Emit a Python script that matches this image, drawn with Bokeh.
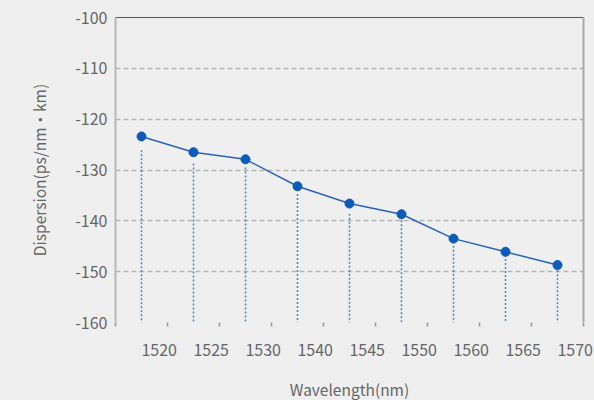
from bokeh.plotting import figure
from bokeh.models import (FixedTicker, CustomJSTickFormatter, LinearAxis, Range1d, Grid,
                          ColumnDataSource, GlobalInlineStyleSheet)
from bokeh.embed import file_html
from bokeh.resources import INLINE

# ---- data ----
wavelengths = ["1520", "1525", "1530", "1540", "1545", "1550", "1560", "1565", "1570"]
dispersion = [-123.4, -126.5, -127.9, -133.2, -136.6, -138.7, -143.5, -146.1, -148.7]
dotted_tops = [-126.1, -128.7, -129.5, -134.7, -138.6, -139.9, -144.9, -147.5, -149.7]
y_ticks = [-160, -150, -140, -130, -120, -110, -100]
y_min, y_max = -160, -100

BG = "#efefef"
FONT = "Noto Sans CJK SC"
TXT = "#666666"

n = len(wavelengths)
FRAME_W, FRAME_H = 468, 305
xs = [i + 0.5 for i in range(n)]
src = ColumnDataSource(dict(x=xs, y=dispersion, top=dotted_tops,
                            bottom=[y_min] * n, label=wavelengths))

# x tick labels in the reference start at each point (left aligned):
# shift the label ticks right by half a label's width
label_px = 16
half_label_px = len(wavelengths[0]) * 0.555 * label_px / 2
shift = half_label_px / (FRAME_W / n)
label_ticks = [x + shift for x in xs]

p = figure(frame_width=FRAME_W, frame_height=FRAME_H,
           x_range=Range1d(0, n), y_range=Range1d(y_min, y_max),
           output_backend="svg", toolbar_location=None,
           min_border_left=115, min_border_right=11,
           min_border_top=17, min_border_bottom=78,
           background_fill_color=BG, border_fill_color=BG,
           x_axis_type=None, y_axis_type=None)
p.outline_line_color = None
p.stylesheets = [GlobalInlineStyleSheet(css="body{background:%s;}" % BG)]

# grid
grid = Grid(dimension=1, ticker=FixedTicker(ticks=y_ticks),
            grid_line_color="#b5b5b5", grid_line_width=1.5, grid_line_dash="5 3")
p.add_layout(grid)

# y axis
yax = LinearAxis(ticker=FixedTicker(ticks=y_ticks),
                 formatter=CustomJSTickFormatter(code="return tick.toFixed(0);"))
yax.axis_label = "Dispersion(ps/nm\u00b7km)"
yax.axis_label_text_font = FONT
yax.axis_label_text_font_size = "15.5px"
yax.axis_label_text_font_style = "normal"
yax.axis_label_text_color = TXT
yax.axis_label_standoff = 22
yax.major_label_text_font = FONT
yax.major_label_text_font_size = "16px"
yax.major_label_text_color = TXT
yax.major_label_standoff = 8
yax.major_tick_out = 0
yax.major_tick_in = 0
yax.minor_tick_out = 0
yax.minor_tick_in = 0
yax.axis_line_color = "#b8b8b8"
yax.axis_line_width = 2
p.add_layout(yax, "left")

# x axis
xax = LinearAxis(ticker=FixedTicker(ticks=label_ticks, minor_ticks=list(range(n + 1))),
                 formatter=CustomJSTickFormatter(args=dict(labels=wavelengths),
                                                 code="return labels[Math.floor(tick)];"))
xax.axis_label = "Wavelength(nm)"
xax.axis_label_text_font = FONT
xax.axis_label_text_font_size = "15.5px"
xax.axis_label_text_font_style = "normal"
xax.axis_label_text_color = TXT
xax.axis_label_standoff = 19
xax.major_label_text_font = FONT
xax.major_label_text_font_size = "%dpx" % label_px
xax.major_label_text_color = TXT
xax.major_label_standoff = 17
xax.major_tick_out = 0
xax.major_tick_in = 0
xax.minor_tick_out = 4
xax.minor_tick_in = 0
xax.minor_tick_line_color = "#999999"
xax.minor_tick_line_width = 1.5
xax.axis_line_color = None
p.add_layout(xax, "below")

# top and right frame lines
top = LinearAxis(ticker=FixedTicker(ticks=[]), major_label_text_font_size="0px",
                 major_tick_out=0, minor_tick_out=0, axis_line_color="#555555",
                 axis_line_width=1)
p.add_layout(top, "above")
right = LinearAxis(ticker=FixedTicker(ticks=[]), major_label_text_font_size="0px",
                   major_tick_out=0, minor_tick_out=0, axis_line_color="#aaaaaa",
                   axis_line_width=2)
p.add_layout(right, "right")

# dotted drop lines
p.segment(x0="x", y0="top", x1="x", y1="bottom", source=src,
          line_color="#3f83dc", line_width=1.5, line_dash="2 2")

# line + markers
p.line("x", "y", source=src, line_color="#2a62b5", line_width=1.5)
p.scatter("x", "y", source=src, size=9, fill_color="#0b5cb8", line_color="#0b5cb8")

open("out.html", "w").write(file_html(p, INLINE))
